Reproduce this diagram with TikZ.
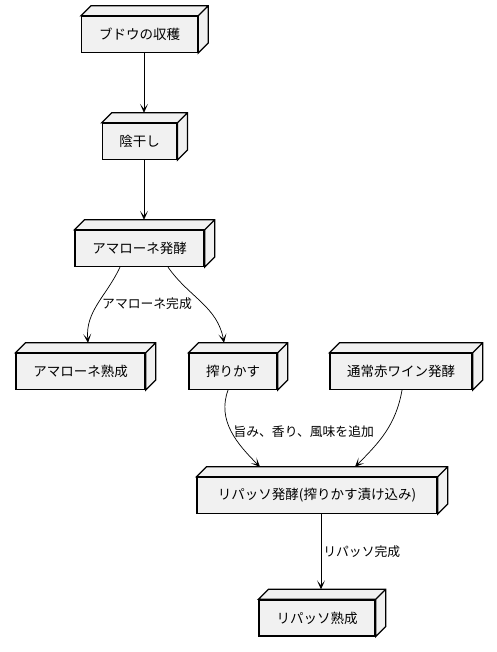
\documentclass[tikz,border=0pt]{standalone}
\usepackage{fontspec}
\setmainfont{Noto Sans CJK JP}
\usepackage{tikz}
\usetikzlibrary{arrows.meta}
\definecolor{stagefill}{HTML}{F1F1F1}
\tikzstyle{stage} = [rectangle, minimum height=36pt, inner xsep=17pt, text centered, draw=black, line width=1.3pt, fill=stagefill, font=\fontsize{13.5}{16}\selectfont]
\tikzstyle{stagedepth} = [draw=black, line width=1.3pt, fill=stagefill]
\tikzstyle{arrow} = [line width=0.7pt, -{Stealth[length=9pt,width=8pt,inset=5pt]}]
\tikzstyle{edgetext} = [font=\fontsize{12.8}{15}\selectfont, inner sep=2pt]

\begin{document}
\begin{tikzpicture}[x=1pt, y=1pt]
\useasboundingbox (0,0) rectangle (496,652);
\node (harvest) [stage, minimum width=116pt] at (139.5,617.5) {ブドウの収穫};
\node (dry) [stage, minimum width=74pt] at (139.5,510.5) {陰干し};
\node (amarone) [stage, minimum width=129pt] at (139.5,403.5) {アマローネ発酵};
\node (amaroneage) [stage, minimum width=129pt] at (80.5,280.5) {アマローネ熟成};
\node (pomace) [stage, minimum width=88pt] at (233,280.5) {搾りかす};
\node (redwine) [stage, minimum width=142pt] at (401,280.5) {通常赤ワイン発酵};
\node (ripasso) [stage, minimum width=240pt] at (317,156.5) {リパッソ発酵(搾りかす漬け込み)};
\node (ripassoage) [stage, minimum width=116pt] at (317,34) {リパッソ熟成};

% top and side faces
\foreach \n in {harvest,dry,amarone,amaroneage,pomace,redwine,ripasso,ripassoage}
  \draw [stagedepth] (\n.north west) -- ++(10,10) -- ([shift={(10pt,10pt)}]\n.north east)
    -- ([shift={(10pt,10pt)}]\n.south east) -- (\n.south east) -- (\n.north east) -- cycle
    (\n.north east) -- ++(10,10);

\draw [arrow] ([xshift=4.5pt]harvest.south) -- ([xshift=4.5pt,yshift=10pt]dry.north);
\draw [arrow] ([xshift=4.5pt]dry.south) -- ([xshift=4.5pt,yshift=10pt]amarone.north);
\draw [arrow] ([xshift=-19.5pt]amarone.south) to[out=-115,in=95]
  node[edgetext, midway, anchor=west, xshift=2pt] {アマローネ完成} ([xshift=7.5pt,yshift=10pt]amaroneage.north);
\draw [arrow] ([xshift=28.5pt]amarone.south) to[out=-55,in=100] ([xshift=-9pt,yshift=10pt]pomace.north);
\draw [arrow] ([xshift=-5pt]pomace.south) to[out=-110,in=135]
  node[edgetext, midway, anchor=west, xshift=0pt] {旨み、香り、風味を追加} ([xshift=-57pt,yshift=10pt]ripasso.north);
\draw [arrow] ([xshift=1pt]redwine.south) to[out=-100,in=45] ([xshift=38pt,yshift=10pt]ripasso.north);
\draw [arrow] ([xshift=4pt]ripasso.south) -- ([xshift=4pt,yshift=10pt]ripassoage.north)
  node[edgetext, midway, anchor=west] {リパッソ完成};
\end{tikzpicture}
\end{document}
